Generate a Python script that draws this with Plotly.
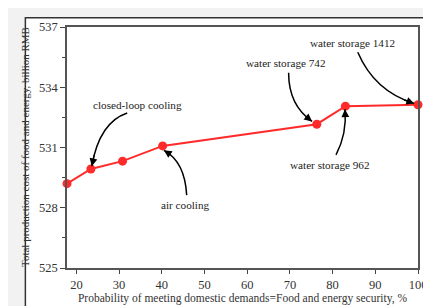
import plotly.graph_objects as go

# Data
prob = [17.8, 23.4, 30.8, 40.2, 76.3, 83.0, 100.0]
cost = [529.2, 529.93, 530.32, 531.08, 532.16, 533.06, 533.13]

labels = ["closed-loop cooling", "air cooling", "water storage 742",
          "water storage 1412", "water storage 962"]
label_x = [34.25, 45.6, 69.2, 84.74, 79.4]
label_y = [533.14, 528.16, 535.19, 536.21, 530.12]
start_x = [31.9, 45.83, 69.7, 85.9, 80.8]
start_y = [532.72, 528.63, 534.72, 535.74, 530.63]
ctrl_x = [25.4, 45.4, 69.7, 89.8, 83.4]
ctrl_y = [532.26, 530.3, 533.1, 533.8, 531.7]
end_x = [23.6, 40.5, 75.2, 99.1, 82.9]
end_y = [530.07, 530.86, 532.3, 533.19, 532.9]

x_ticks = [20, 30, 40, 50, 60, 70, 80, 90, 100]
y_ticks = [525, 528, 531, 534, 537]

FONT = "'Times New Roman', 'Liberation Serif', 'DejaVu Serif', serif"

fig = go.Figure()
fig.add_trace(go.Scatter(
    x=prob, y=cost, mode="lines+markers",
    line=dict(color="#ff2a2a", width=2),
    marker=dict(color="#ff2a2a", size=9),
    cliponaxis=False, showlegend=False,
))

shapes = [dict(type="rect", xref="paper", yref="paper",
               x0=-0.1186, x1=1.0395, y0=-0.2, y1=1.0388,
               fillcolor="white", line=dict(color="#333333", width=1.5),
               layer="below")]
annotations = []
for i, lab in enumerate(labels):
    sx, sy, cx, cy, ex, ey = start_x[i], start_y[i], ctrl_x[i], ctrl_y[i], end_x[i], end_y[i]
    shapes.append(dict(type="path", xref="x", yref="y",
                       path=f"M {sx},{sy} Q {cx},{cy} {ex},{ey}",
                       line=dict(color="black", width=1.5)))
    t = 0.85
    bx = (1 - t) ** 2 * sx + 2 * (1 - t) * t * cx + t ** 2 * ex
    by = (1 - t) ** 2 * sy + 2 * (1 - t) * t * cy + t ** 2 * ey
    annotations.append(dict(x=ex, y=ey, ax=bx, ay=by, axref="x", ayref="y",
                            xref="x", yref="y", text="", showarrow=True,
                            arrowhead=2, arrowsize=1.2, arrowwidth=1.3,
                            arrowcolor="black"))
    annotations.append(dict(x=label_x[i], y=label_y[i], xref="x", yref="y",
                            text=lab, showarrow=False,
                            font=dict(family=FONT, size=11.2, color="#222222")))

# y-axis title as rotated annotation for precise placement
annotations.append(dict(x=-0.121, y=0.5, xref="paper", yref="paper",
                        text="Total production cost of food and energy, billion RMB",
                        textangle=-90, showarrow=False, xanchor="center", yanchor="middle",
                        font=dict(family=FONT, size=11, color="#333")))

fig.update_layout(
    width=431, height=306,
    margin=dict(l=59, r=18, t=16, b=32),
    paper_bgcolor="#f2f2f2", plot_bgcolor="white",
    shapes=shapes, annotations=annotations,
    font=dict(family=FONT, color="#333333"),
    xaxis=dict(range=[17.8, 100], tickvals=x_ticks, ticks="outside", ticklen=4,
               tickcolor="#444", showline=True, linecolor="#555", linewidth=1.5,
               mirror=True, showgrid=False, zeroline=False,
               tickfont=dict(family=FONT, size=12.5, color="#333"),
               title=dict(text="Probability of meeting domestic demands=Food and energy security, %",
                          font=dict(family=FONT, size=11.5, color="#333"), standoff=2)),
    yaxis=dict(range=[525, 537], tickvals=y_ticks, ticks="outside", ticklen=5,
               tickcolor="#444", showline=True, linecolor="#555", linewidth=1.5,
               mirror=True, showgrid=False, zeroline=False,
               minor=dict(dtick=1.5, tick0=525, ticks="outside", ticklen=3, tickcolor="#444"),
               tickfont=dict(family=FONT, size=12.5, color="#333")),
)

fig.write_html("out.html")
